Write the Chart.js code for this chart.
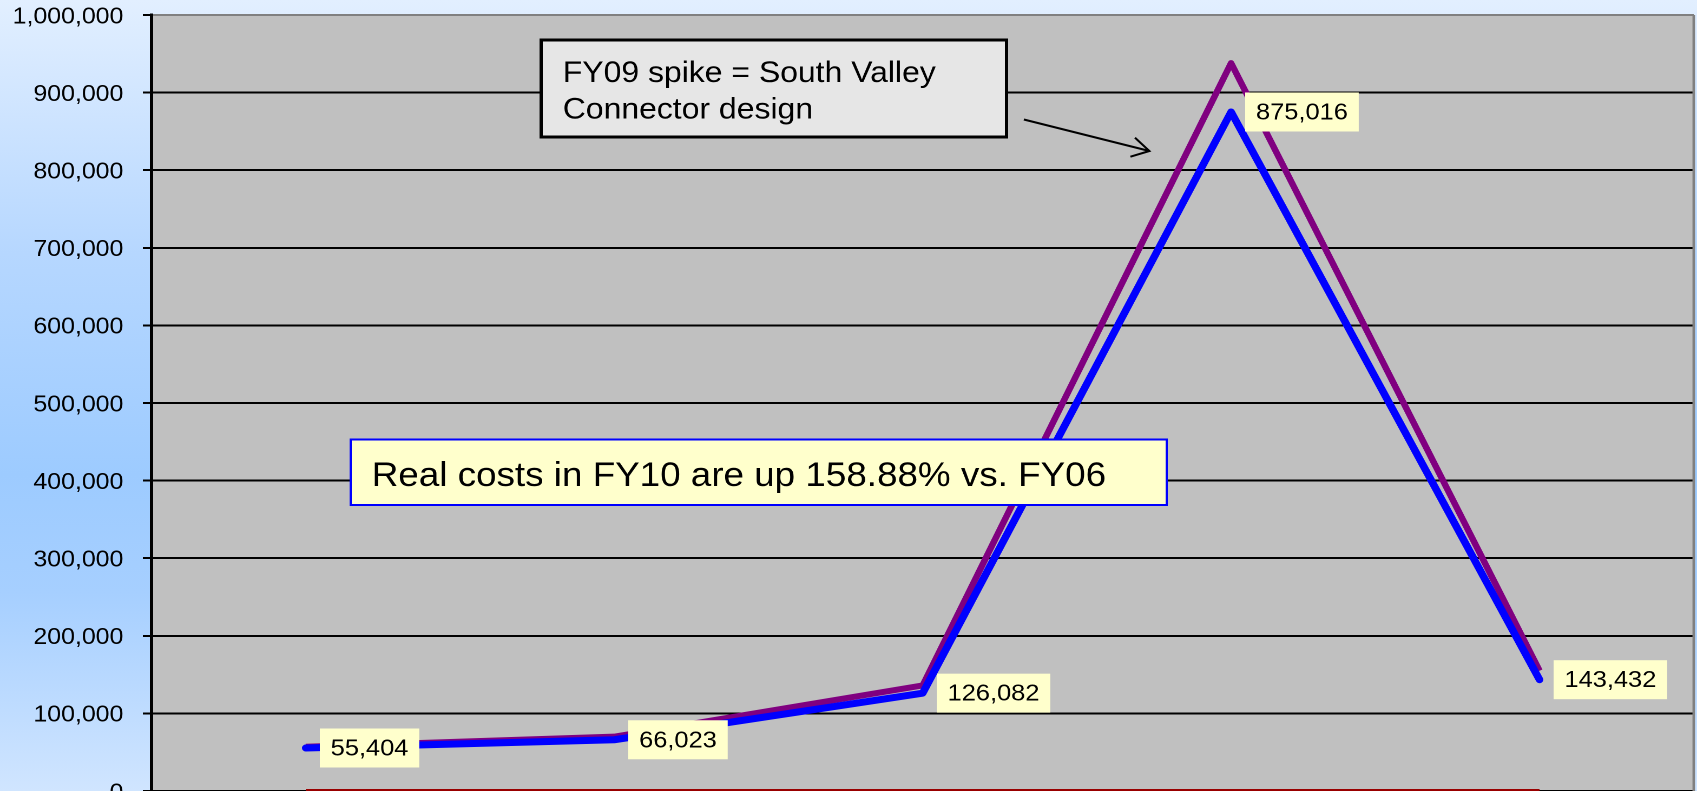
<!DOCTYPE html>
<html><head><meta charset="utf-8">
<script src="https://cdn.jsdelivr.net/npm/chart.js@4.4.0/dist/chart.umd.min.js"></script>
<style>
html,body{margin:0;padding:0;overflow:hidden;width:1697px;height:791px;}
body{background:linear-gradient(to bottom,#e2efff 0%,#b6d7ff 32%,#9dcbff 60%,#a6cfff 75%,#d0e5ff 100%);}
#wrap{position:absolute;left:0;top:0;width:1568px;height:806px;transform:scaleX(1.0822704);transform-origin:0 0;}
</style></head><body>
<div id="wrap"><canvas id="c" width="1568" height="806"></canvas></div>
<script>
// ---- data ----
const categories = ['FY06', 'FY07', 'FY08', 'FY09', 'FY10'];
const realCosts = [55404, 66023, 126082, 875016, 143432];
const nominalCosts = [57000, 70000, 136000, 938000, 155000];
const baseSeries = [0, 0, 0, 0, 0];
const yMin = 0, yMax = 1000000, yStep = 100000;
const noteTop = ['FY09 spike = South Valley', 'Connector design'];
const noteMid = 'Real costs in FY10 are up 158.88% vs. FY06';

const FONT = "'Liberation Sans', Arial, sans-serif";

const plotBg = {
  id: 'plotBg',
  beforeDraw(chart) {
    const {ctx, chartArea: a} = chart;
    ctx.save();
    ctx.fillStyle = '#c0c0c0';
    ctx.fillRect(a.left, a.top, a.right - a.left, a.bottom - a.top);
    ctx.restore();
  },
  beforeDatasetsDraw(chart) {
    const {ctx, chartArea: a} = chart;
    ctx.save();
    ctx.strokeStyle = '#808080';
    ctx.lineWidth = 2.4;
    ctx.beginPath();
    ctx.moveTo(a.right, a.top);
    ctx.lineTo(a.right, a.bottom);
    ctx.stroke();
    ctx.restore();
  }
};

const valueLabels = {
  id: 'valueLabels',
  afterDatasetsDraw(chart) {
    const {ctx} = chart;
    const meta = chart.getDatasetMeta(0);
    ctx.save();
    ctx.font = '23.5px ' + FONT;
    ctx.textBaseline = 'middle';
    ctx.textAlign = 'left';
    meta.data.forEach((pt, i) => {
      const txt = realCosts[i].toLocaleString('en-US');
      const w = ctx.measureText(txt).width + 20;
      const h = 39;
      const bx = pt.x + 13, by = pt.y - h / 2;
      ctx.fillStyle = '#ffffcc';
      ctx.fillRect(bx, by, w, h);
      ctx.fillStyle = '#000';
      ctx.fillText(txt, bx + 10, pt.y + 1);
    });
    ctx.restore();
  }
};

const notes = {
  id: 'notes',
  afterDraw(chart) {
    const {ctx} = chart;
    ctx.save();
    // top note box
    ctx.fillStyle = '#e6e6e6';
    ctx.fillRect(500, 40, 430, 97);
    ctx.strokeStyle = '#000';
    ctx.lineWidth = 3;
    ctx.strokeRect(500, 40, 430, 97);
    ctx.fillStyle = '#000';
    ctx.font = '29.5px ' + FONT;
    ctx.textBaseline = 'alphabetic';
    ctx.fillText(noteTop[0], 520, 82);
    ctx.fillText(noteTop[1], 520, 118.5);
    // arrow
    ctx.lineWidth = 2;
    ctx.beginPath();
    ctx.moveTo(946, 119.5);
    ctx.lineTo(1062, 151);
    ctx.moveTo(1044.5, 156.7);
    ctx.lineTo(1062, 151);
    ctx.lineTo(1048.7, 137.7);
    ctx.stroke();
    // middle note box
    ctx.fillStyle = '#ffffcc';
    ctx.fillRect(324, 439.5, 754, 65.5);
    ctx.strokeStyle = '#0000ff';
    ctx.lineWidth = 2;
    ctx.strokeRect(324, 439.5, 754, 65.5);
    ctx.fillStyle = '#000';
    ctx.font = '34px ' + FONT;
    ctx.fillText(noteMid, 343.5, 486);
    ctx.restore();
  }
};

new Chart(document.getElementById('c'), {
  type: 'line',
  data: {
    labels: categories,
    datasets: [
      {label: 'Real', data: realCosts, borderColor: '#0000ff', borderWidth: 7,
       borderCapStyle: 'round', borderJoinStyle: 'round', pointRadius: 0, tension: 0, fill: false},
      {label: 'Nominal', data: nominalCosts, borderColor: '#800080', borderWidth: 6,
       borderCapStyle: 'butt', borderJoinStyle: 'round', pointRadius: 0, tension: 0, fill: false},
      {label: 'Base', data: baseSeries, borderColor: '#990000', borderWidth: 4,
       pointRadius: 0, tension: 0, fill: false}
    ]
  },
  options: {
    responsive: false,
    devicePixelRatio: 2,
    animation: false,
    events: [],
    layout: {padding: {top: 15, right: 3, bottom: 15, left: 0}},
    plugins: {legend: {display: false}, tooltip: {enabled: false}},
    scales: {
      x: {type: 'category', offset: true, display: false},
      y: {
        min: yMin, max: yMax,
        afterFit(scale) { scale.width = 140; scale.paddingTop = 0; scale.paddingBottom = 0; },
        border: {display: true, color: '#000', width: 3},
        grid: {
          color: (c) => (c.tick && c.tick.value === yMax ? '#808080' : '#000'),
          lineWidth: 2, tickLength: 8, tickColor: '#000', tickWidth: 2, drawTicks: true
        },
        ticks: {
          stepSize: yStep, padding: 18, labelOffset: 2, color: '#000',
          font: {family: FONT, size: 23},
          callback: (v) => Number(v).toLocaleString('en-US')
        }
      }
    }
  },
  plugins: [plotBg, valueLabels, notes]
});
</script>
</body></html>
